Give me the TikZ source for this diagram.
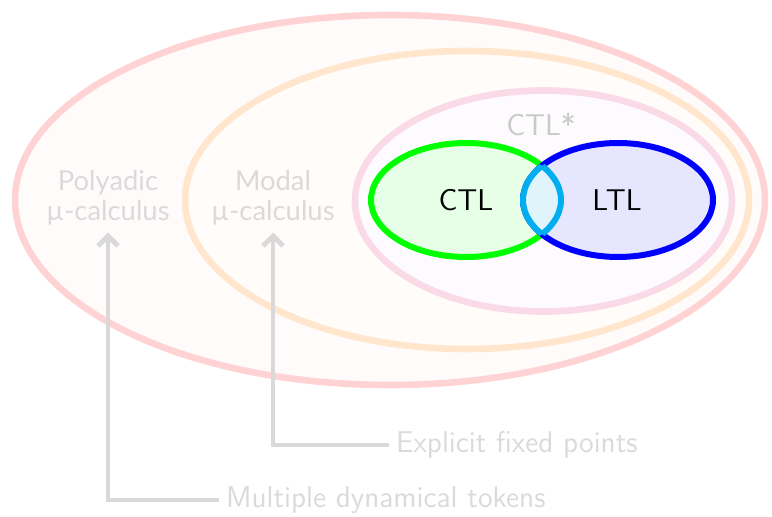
\documentclass[tikz,border=0pt]{standalone}
\usepackage{fontspec}
\newfontfamily\latofont{Lato}
\usetikzlibrary{shapes.geometric,arrows.meta}
\definecolor{redring}{HTML}{FFD3D3}
\definecolor{redfill}{HTML}{FFFBFB}
\definecolor{orangering}{HTML}{FFE6CC}
\definecolor{orangefill}{HTML}{FFFCFA}
\definecolor{pinkring}{HTML}{FADAE6}
\definecolor{pinkfill}{HTML}{FDFBFD}
\definecolor{ctlgreen}{HTML}{00FF00}
\definecolor{ctlfill}{HTML}{E6FFE6}
\definecolor{ltlblue}{HTML}{0000FF}
\definecolor{ltlfill}{HTML}{E6E6FF}
\definecolor{lenscyan}{HTML}{00AEEF}
\definecolor{lensfill}{HTML}{E0F4FB}
\definecolor{faint}{HTML}{D9D9D9}
\definecolor{fainttext}{HTML}{DADADA}
\tikzset{
  ring/.style={ellipse, inner sep=0pt, line width=3pt},
  faintlabel/.style={text=fainttext, align=center},
  pointer/.style={draw=faint, line width=2.4pt, -{Straight Barb[length=5pt,width=10pt,line width=2.4pt]}},
  latolabel/.style={faintlabel, font=\latofont\fontsize{13.7}{15}\selectfont},
}
\begin{document}
\begin{tikzpicture}[x=0.5pt,y=-0.5pt,font=\sffamily\fontsize{15}{18}\selectfont]
\useasboundingbox (0,0) rectangle (772,517);
\node[ring, line width=3.3pt, draw=redring, fill=redfill, minimum width=375pt, minimum height=185pt] (outer) at (390,200) {};
\node[ring, line width=3.3pt, draw=orangering, fill=orangefill, minimum width=282pt, minimum height=149pt] (modal) at (467,200) {};
\node[ring, line width=3.3pt, draw=pinkring, fill=pinkfill, minimum width=188.5pt, minimum height=110.5pt] (star) at (543.5,201) {};
\node[ring, draw=ctlgreen, fill=ctlfill, minimum width=95pt, minimum height=57pt] (ctl) at (466,200) {};
\node[ring, draw=ltlblue, fill=ltlfill, minimum width=95pt, minimum height=57pt] (ltl) at (618,200) {};
% lens
\begin{scope}
  \clip (466,200) ellipse [x radius=95, y radius=57];
  \fill[lensfill] (618,200) ellipse [x radius=95, y radius=57];
  \draw[lenscyan, line width=3pt] (618,200) ellipse [x radius=95, y radius=57];
\end{scope}
\begin{scope}
  \clip (618,200) ellipse [x radius=95, y radius=57];
  \draw[lenscyan, line width=3pt] (466,200) ellipse [x radius=95, y radius=57];
\end{scope}
\node (ctltext) at (466,200) {CTL};
\node (ltltext) at (617,200) {LTL};
\node[text=fainttext!92!black] (startext) at (541,124) {CTL*};
\node[latolabel] (poly) at (108,198) {Polyadic\\µ-calculus};
\node[latolabel] (modaltext) at (273,198) {Modal\\µ-calculus};
\node[faintlabel, anchor=west] (tokens) at (219,500) {Multiple dynamical tokens};
\node[faintlabel, anchor=west] (fixed) at (389,445) {Explicit fixed points};
\draw[pointer] (tokens.west) -| (poly.south);
\draw[pointer] (fixed.west) -| (modaltext.south);
\end{tikzpicture}
\end{document}
